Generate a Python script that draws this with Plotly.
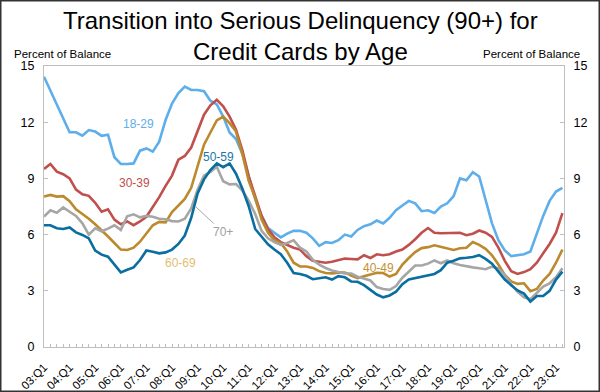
import plotly.graph_objects as go

# ---------------- data ----------------
tick_labels = ["03:Q1", "04:Q1", "05:Q1", "06:Q1", "07:Q1", "08:Q1", "09:Q1",
               "10:Q1", "11:Q1", "12:Q1", "13:Q1", "14:Q1", "15:Q1", "16:Q1",
               "17:Q1", "18:Q1", "19:Q1", "20:Q1", "21:Q1", "22:Q1", "23:Q1"]

age_18_29 = [14.43, 13.7, 13.0, 12.2, 11.46,
             11.46, 11.28, 11.58, 11.5, 11.27,
             11.33, 10.13, 9.77, 9.77, 9.8,
             10.48, 10.6, 10.43, 10.96, 12.12,
             13.0, 13.55, 13.9, 13.72, 13.72,
             13.65, 13.15, 12.95, 12.3, 11.45,
             11.1, 10.3, 9.1, 7.9, 7.0,
             6.35, 6.1, 5.85, 6.05, 6.2,
             6.2, 6.1, 5.8, 5.4, 5.6,
             5.55, 5.7, 6.0, 5.9, 6.25,
             6.45, 6.55, 6.75, 6.6, 6.9,
             7.3, 7.55, 7.8, 7.67, 7.25,
             7.3, 7.15, 7.5, 7.67, 8.05,
             9.0, 8.9, 9.33, 9.1, 7.9,
             6.6, 5.7, 5.15, 4.85, 4.92,
             4.95, 5.1, 6.05, 7.0, 7.8,
             8.3, 8.5]

age_30_39 = [9.5, 9.77, 9.36, 9.22, 9.0,
             8.4, 8.15, 8.07, 7.7, 7.22,
             7.35, 6.8, 6.55, 6.7, 6.5,
             6.7, 6.95, 7.45, 8.0, 8.6,
             9.15, 10.0, 10.2, 10.65, 11.55,
             12.4, 12.9, 13.2, 12.85, 12.3,
             11.6, 10.5, 9.1, 8.0, 7.0,
             6.3, 5.85, 5.6, 5.45, 5.3,
             5.2, 4.85, 4.6, 4.55, 4.5,
             4.55, 4.65, 4.72, 4.7, 4.68,
             4.9, 4.75, 4.95, 4.9, 4.95,
             5.1, 5.2, 5.45, 5.75, 6.1,
             6.35, 6.1, 6.07, 6.07, 6.08,
             6.1, 5.97, 6.05, 6.22, 6.1,
             5.88, 5.3, 4.6, 4.05, 3.9,
             4.0, 4.15, 4.5, 5.0, 5.5,
             6.1, 7.15]

age_40_49 = [8.03, 8.12, 8.03, 8.05, 7.78,
             7.35, 7.1, 6.85, 6.55, 6.25,
             5.9, 5.55, 5.2, 5.18, 5.3,
             5.62, 6.05, 6.5, 6.68, 6.65,
             7.2, 7.55, 7.9, 8.5, 9.7,
             10.8, 11.45, 12.1, 12.3, 11.95,
             11.5, 10.3, 8.85, 7.95, 6.8,
             6.1, 5.7, 5.55, 5.1, 4.5,
             4.3, 4.3, 4.22, 4.05, 3.95,
             3.93, 3.97, 3.98, 3.82, 3.68,
             3.78, 3.86, 3.96, 3.95, 3.76,
             3.9, 4.4, 4.75, 5.07, 5.28,
             5.33, 5.43, 5.35, 5.26, 5.18,
             5.27, 5.3, 5.6, 5.45, 5.24,
             4.9, 4.4, 3.85, 3.5, 3.37,
             3.4, 2.98, 3.1, 3.55, 3.9,
             4.5, 5.2]

age_50_59 = [6.5, 6.5, 6.34, 6.3, 6.38,
             6.12, 5.98, 5.8, 5.15, 4.93,
             4.82, 4.4, 3.98, 4.12, 4.25,
             4.64, 5.15, 5.09, 5.0, 5.05,
             5.2, 5.5, 5.95, 6.9, 8.2,
             8.95, 9.45, 9.8, 9.6, 9.8,
             9.25, 8.45, 7.5, 6.3, 5.9,
             5.48, 5.2, 4.95, 4.5, 3.95,
             3.9, 3.8, 3.62, 3.66, 3.72,
             3.6, 3.78, 3.72, 3.5, 3.48,
             3.3, 3.05, 2.8, 2.65, 2.75,
             2.95, 3.35, 3.6, 3.68, 3.76,
             3.84, 3.9, 4.1, 4.5, 4.6,
             4.73, 4.76, 4.8, 4.9, 4.7,
             4.45, 4.05, 3.6, 3.3, 3.02,
             2.85, 2.42, 2.72, 2.72, 3.0,
             3.6, 4.02]

age_70_plus = [6.96, 7.3, 7.17, 7.45, 7.22,
               7.0, 6.6, 6.0, 6.34, 6.18,
               6.32, 6.5, 6.25, 6.98, 7.08,
               6.92, 7.0, 6.95, 6.85, 6.82,
               6.72, 6.7, 6.85, 7.4, 8.4,
               9.15, 9.35, 9.62, 8.85, 8.68,
               8.7, 8.35, 7.8, 7.1, 6.2,
               5.8, 5.6, 5.45, 5.55, 5.7,
               5.3, 5.1, 4.65, 4.4, 4.22,
               4.08, 4.0, 3.93, 3.92, 3.75,
               3.66, 3.55, 3.2, 3.1, 3.05,
               3.25, 3.7, 4.05, 4.35, 4.35,
               4.45, 4.62, 4.47, 4.62, 4.47,
               4.38, 4.3, 4.25, 4.2, 4.15,
               4.29, 4.2, 3.85, 3.35, 2.95,
               2.65, 2.55, 2.87, 3.22, 3.4,
               3.72, 4.2]

y_ticks = [0, 3, 6, 9, 12, 15]

# quarters 03:Q1 ... 23:Q2
quarters = [f"{y % 100:02d}:Q{q}" for y in range(2003, 2024) for q in range(1, 5)][:len(age_18_29)]
xpos = list(range(len(quarters)))
tick_pos = [quarters.index(t) for t in tick_labels]

FONT = "Liberation Sans, Arial, sans-serif"
AXIS_GRAY = "#BFBFBF"

series = [
    ("18-29", age_18_29, "#5DAEEA"),
    ("30-39", age_30_39, "#C0504D"),
    ("40-49", age_40_49, "#BC8A2C"),
    ("70+", age_70_plus, "#A6A6A6"),
    ("50-59", age_50_59, "#0A6FA0"),
]

fig = go.Figure()
for name, vals, col in series:
    fig.add_trace(go.Scatter(x=xpos, y=vals, mode="lines", name=name,
                             line=dict(color=col, width=2.6), showlegend=False))

# invisible trace to anchor the right axis
fig.add_trace(go.Scatter(x=[xpos[0]], y=[0], yaxis="y2", mode="lines",
                         line=dict(width=0), showlegend=False, hoverinfo="skip"))

labels = [
    ("18-29", 14.7, 11.9, "#5DAEEA"),
    ("30-39", 14.2, 8.76, "#C0504D"),
    ("50-59", 27.3, 10.14, "#1B76A8"),
    ("60-69", 21.4, 4.48, "#E3BD72"),
    ("40-49", 52.2, 4.2, "#C39236"),
]
for txt, x, y, col in labels:
    fig.add_annotation(x=x, y=y, text=txt, showarrow=False,
                       xanchor="center", yanchor="middle",
                       font=dict(family=FONT, size=12, color=col))
fig.add_annotation(x=23.75, y=7.47, text="70+", showarrow=True, arrowhead=0,
                   arrowwidth=1, arrowcolor="#A6A6A6", ax=27, ay=25,
                   font=dict(family=FONT, size=12, color="#A0A0A0"))

W, H, L, R, T, B = 600, 392, 44, 36, 66, 45
pw, ph = W - L - R, H - T - B

def px_x(p):
    return (p - L) / pw

def px_y(p):
    return (H - B - p) / ph

# title
fig.add_annotation(xref="paper", yref="paper", x=px_x(300), y=px_y(5),
                   xanchor="center", yanchor="top", showarrow=False,
                   text="Transition into Serious Delinquency (90+) for<br>Credit Cards by Age",
                   font=dict(family=FONT, size=24, color="#000"))

fig.add_annotation(xref="paper", yref="paper", x=px_x(62), y=px_y(54),
                   xanchor="center", yanchor="middle",
                   text="Percent of Balance", showarrow=False,
                   font=dict(family=FONT, size=11.5, color="#000000"))
fig.add_annotation(xref="paper", yref="paper", x=px_x(531), y=px_y(54),
                   xanchor="center", yanchor="middle",
                   text="Percent of Balance", showarrow=False,
                   font=dict(family=FONT, size=11.5, color="#000000"))

# outer frame
fig.add_shape(type="rect", xref="paper", yref="paper",
              x0=px_x(0.75), x1=px_x(W - 0.75),
              y0=px_y(H - 0.75), y1=px_y(0.75),
              line=dict(color="#333333", width=1.5))

axis_common = dict(showline=True, linecolor=AXIS_GRAY, linewidth=1,
                   showgrid=False, zeroline=False, ticks="inside",
                   ticklen=4, tickcolor=AXIS_GRAY, range=[0, 15],
                   tickvals=y_ticks, automargin=False, ticklabelstandoff=6,
                   tickfont=dict(family=FONT, size=12.5, color="#000"))

fig.update_layout(
    width=W, height=H,
    margin=dict(l=L, r=R, t=T, b=B, autoexpand=False),
    paper_bgcolor="white", plot_bgcolor="white",
    xaxis=dict(range=[0, 81.25], tickvals=tick_pos, ticktext=tick_labels,
               tickangle=-45, showline=True, mirror=True, linecolor=AXIS_GRAY,
               linewidth=1, showgrid=False, zeroline=False, ticks="inside",
               ticklen=3, tickcolor=AXIS_GRAY, automargin=False,
               ticklabelstandoff=8,
               minor=dict(dtick=1, ticks="inside", ticklen=3, tickcolor=AXIS_GRAY),
               tickfont=dict(family=FONT, size=11.5, color="#000")),
    yaxis=dict(side="left", **axis_common),
    yaxis2=dict(side="right", overlaying="y", **axis_common),
)

fig.write_html("out.html", config={"displayModeBar": False},
               post_script="document.body.style.margin='0';")
